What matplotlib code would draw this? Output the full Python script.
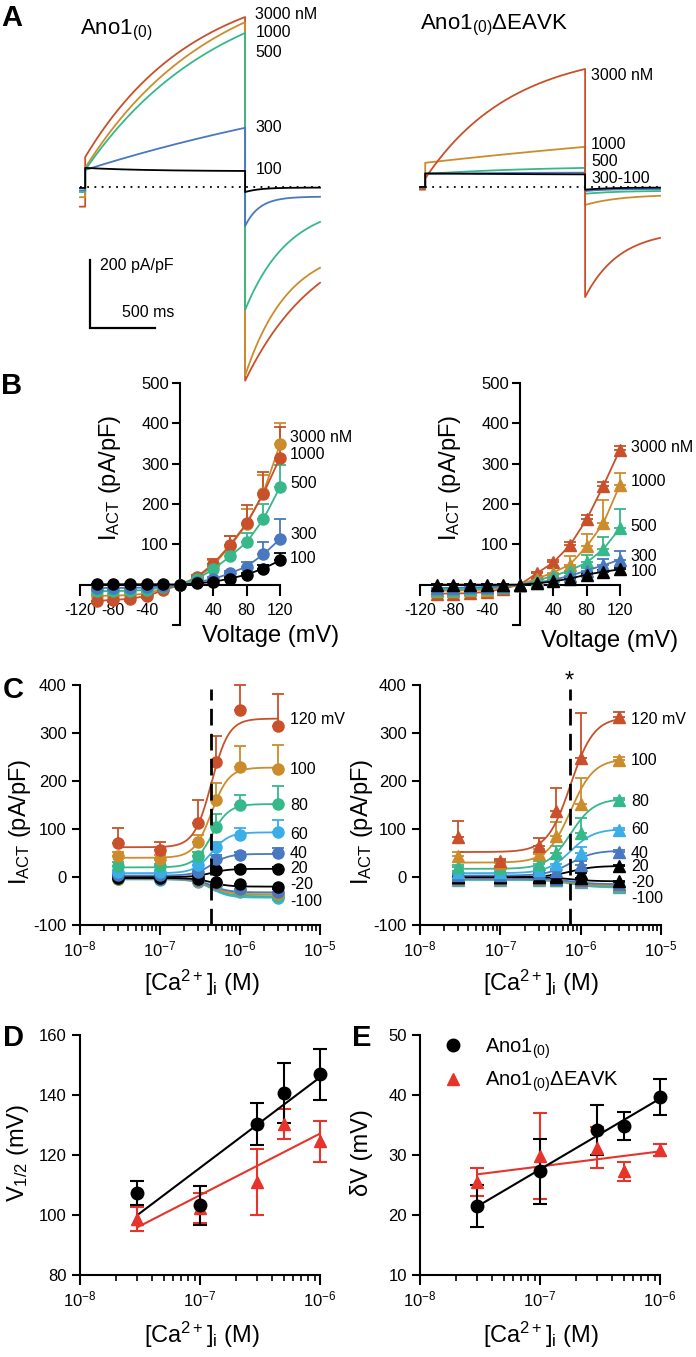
import numpy as np
import matplotlib.pyplot as plt
from matplotlib.ticker import LogLocator, NullFormatter
from matplotlib.lines import Line2D

# --------------------------------
# STYLE
# --------------------------------
plt.rcParams.update({
    "font.family": "Liberation Sans",
    "mathtext.fontset": "custom",
    "mathtext.rm": "Liberation Sans",
    "mathtext.it": "Liberation Sans:italic",
    "mathtext.bf": "Liberation Sans:bold",
    "mathtext.default": "regular",
    "axes.unicode_minus": False,
    "axes.linewidth": 1.5,
    "xtick.major.width": 1.5,
    "ytick.major.width": 1.5,
    "xtick.minor.width": 1.2,
    "xtick.major.size": 7,
    "ytick.major.size": 6,
    "xtick.minor.size": 4.5,
    "xtick.direction": "out",
    "ytick.direction": "out",
})

W, H = 696, 1357
RED = "#C8502A"
GOLD = "#CC8C2C"
GREEN = "#36B88A"
BLUE = "#4878C0"
LBLUE = "#3AAEE6"
BRIGHT_RED = "#E8332B"

LABEL_FS = 17
TICK_FS = 12
TICK_FS_B = 11.5
NOTE_FS = 11.5

# --------------------------------
# DATA - A (current traces, pA/pF)
# --------------------------------
T_PRE, T_STEP, T_END = -40, 1230, 1806

trace_colors = [RED, GOLD, GREEN, BLUE, "black"]
# Ano1(0): 3000, 1000, 500, 300, 100 nM
hold_wt = [-58, -30, -15, -10, -3]
on_wt = [88, 56, 50, 50, 56]
mid_wt = [366, 335, 309, 118, 49]
end_wt = [500, 485, 453, 174, 47]
tail_wt = [-570, -555, -362, -115, -15]
tail_mid_wt = [-391, -332, -180, -35, -3]
tail_end_wt = [-282, -238, -103, -29, -2]
labels_a_wt = ["3000 nM", "1000", "500", "300", "100"]
label_y_a_wt = [506, 453, 397, 174, 50]

# Ano1(0)dEAVK: 3000, 1000, 500, 300, 100 nM
hold_mut = [-8, -5, -3, -2, 0]
on_mut = [25, 71, 38, 38, 40]
mid_mut = [255, 96, 50, 41, 38]
end_mut = [347, 118, 56, 42, 37]
tail_mut = [-324, -53, -20, -12, -8]
tail_mid_mut = [-194, -33, -14, -7, -3]
tail_end_mut = [-150, -26, -12, -6, -2]
labels_a_mut = ["3000 nM", "1000", "500", "300-100"]
label_y_a_mut = [329, 126, 74, 26]

# --------------------------------
# DATA - B (I-V)
# --------------------------------
volt = [-100, -80, -60, -40, -20, 0, 20, 40, 60, 80, 100, 120]
iv_colors_wt = [GOLD, RED, GREEN, BLUE, "black"]
iv_wt = [
    [-28, -27, -26, -22, -10, 0, 15, 48, 95, 150, 228, 348],
    [-40, -38, -35, -28, -14, 0, 18, 52, 98, 152, 225, 315],
    [-16, -16, -15, -13, -7, 0, 14, 38, 70, 105, 162, 242],
    [-8, -8, -8, -7, -4, 0, 6, 14, 28, 45, 75, 113],
    [1, 1, 1, 1, 1, 0, 3, 7, 15, 25, 40, 60],
]
iv_err_wt = [
    [12, 12, 11, 10, 6, 0, 6, 12, 25, 38, 45, 52],
    [6, 6, 6, 5, 4, 0, 5, 12, 22, 45, 55, 75],
    [6, 6, 6, 5, 4, 0, 4, 8, 12, 22, 38, 55],
    [4, 4, 4, 3, 2, 0, 2, 4, 7, 12, 30, 50],
    [1, 1, 1, 1, 1, 0, 1, 2, 3, 5, 8, 18],
]
iv_labels_wt = ["3000 nM", "1000", "500", "300", "100"]
iv_label_y_wt = [365, 322, 250, 125, 65]

iv_colors_mut = [RED, GOLD, GREEN, BLUE, "black"]
iv_mut = [
    [-22, -22, -21, -18, -10, 0, 28, 55, 98, 162, 245, 335],
    [-15, -15, -14, -12, -6, 0, 15, 30, 50, 95, 152, 248],
    [-12, -12, -11, -9, -5, 0, 10, 22, 35, 55, 88, 140],
    [-8, -8, -7, -6, -3, 0, 5, 12, 22, 35, 48, 62],
    [0, 0, 0, 0, 0, 0, 3, 8, 15, 25, 32, 38],
]
iv_err_mut = [
    [5, 5, 5, 4, 3, 0, 4, 6, 8, 10, 10, 10],
    [4, 4, 4, 4, 3, 0, 5, 12, 20, 30, 58, 30],
    [3, 3, 3, 3, 2, 0, 3, 5, 10, 18, 30, 48],
    [2, 2, 2, 2, 2, 0, 2, 3, 6, 10, 15, 22],
    [1, 1, 1, 1, 1, 0, 2, 3, 3, 5, 5, 6],
]
iv_labels_mut = ["3000 nM", "1000", "500", "300", "100"]
iv_label_y_mut = [340, 255, 145, 70, 32]

# --------------------------------
# DATA - C (I vs [Ca2+])
# --------------------------------
ca_c = [3e-8, 1e-7, 3e-7, 5e-7, 1e-6, 3e-6]
c_volts = ["120 mV", "100", "80", "60", "40", "20", "-20", "-40", "-60", "-80", "-100"]
c_colors = [RED, GOLD, GREEN, LBLUE, BLUE, "black", "black", BLUE, GOLD, GREEN, LBLUE]
c_show_label = [True, True, True, True, True, True, True, False, False, False, True]

c_wt = [
    [70, 57, 112, 240, 348, 315],
    [43, 38, 73, 160, 229, 226],
    [23, 22, 43, 104, 150, 152],
    [10, 10, 25, 62, 88, 93],
    [5, 5, 10, 37, 45, 50],
    [0, 0, 3, 14, 17, 17],
    [-3, -3, -5, -10, -15, -20],
    [-3, -4, -6, -12, -25, -32],
    [-4, -5, -8, -14, -28, -36],
    [-4, -5, -9, -15, -30, -40],
    [-5, -6, -10, -16, -32, -43],
]
c_err_wt = [
    [32, 16, 48, 53, 52, 66],
    [10, 8, 15, 35, 44, 50],
    [8, 6, 10, 27, 21, 38],
    [5, 4, 6, 10, 14, 25],
    [3, 3, 4, 8, 8, 10],
    [2, 2, 2, 4, 3, 3],
    [2, 2, 2, 3, 3, 4],
    [2, 2, 2, 3, 4, 5],
    [2, 2, 2, 3, 4, 5],
    [2, 2, 2, 3, 4, 5],
    [2, 2, 2, 3, 4, 5],
]
hill_bottom_wt = [62, 40, 20, 8, 3, 0, -2, -3, -4, -4, -5]
hill_top_wt = [330, 228, 152, 93, 48, 17, -20, -32, -36, -40, -43]
hill_k_wt, hill_n_wt = 4.4e-7, 4.0
c_label_y_wt = [329, 225, 148, 88, 48, 17, -15, 0, 0, 0, -50]

c_mut = [
    [83, 33, 65, 138, 248, 333],
    [44, 30, 48, 85, 152, 243],
    [20, 18, 27, 50, 92, 160],
    [10, 10, 15, 28, 50, 97],
    [5, 5, 8, 12, 25, 53],
    [0, 0, 2, 3, 8, 22],
    [0, -1, -1, -1, -3, -8],
    [-3, -3, -3, -4, -6, -14],
    [-4, -4, -4, -5, -8, -17],
    [-5, -5, -5, -6, -9, -19],
    [-6, -6, -6, -7, -10, -21],
]
c_err_mut = [
    [34, 5, 16, 47, 94, 10],
    [8, 5, 10, 30, 55, 7],
    [5, 4, 6, 15, 31, 5],
    [3, 3, 4, 10, 13, 5],
    [2, 2, 3, 5, 8, 4],
    [2, 2, 2, 2, 3, 3],
    [2, 2, 2, 2, 2, 2],
    [2, 2, 2, 2, 2, 3],
    [2, 2, 2, 2, 2, 3],
    [2, 2, 2, 2, 2, 3],
    [2, 2, 2, 2, 2, 3],
]
hill_bottom_mut = [52, 30, 17, 8, 3, 0, 0, -3, -4, -5, -6]
hill_top_mut = [333, 246, 163, 100, 55, 23, -9, -15, -18, -20, -22]
hill_k_mut, hill_n_mut = 7.5e-7, 3.0
c_label_y_mut = [329, 242, 158, 98, 50, 21, -12, 0, 0, 0, -44]

ec50_wt, ec50_mut = 4.4e-7, 7.3e-7

# --------------------------------
# DATA - D / E
# --------------------------------
ca_de = [3e-8, 1e-7, 3e-7, 5e-7, 1e-6]
vhalf_wt = [107.3, 103.3, 130.3, 140.6, 147.0]
vhalf_wt_err = [4.0, 6.5, 7.0, 10.0, 8.5]
vhalf_mut = [98.6, 102.5, 111.0, 130.3, 124.6]
vhalf_mut_err = [4.0, 5.0, 11.0, 5.0, 6.8]
dv_wt = [21.5, 27.3, 34.2, 34.8, 39.7]
dv_wt_err = [3.5, 5.4, 4.2, 2.3, 3.0]
dv_mut = [25.5, 29.8, 31.2, 27.3, 30.8]
dv_mut_err = [2.3, 7.2, 3.4, 1.6, 1.0]


# --------------------------------
# HELPERS
# --------------------------------
def add_px_axes(x0, y0, x1, y1):
    return fig.add_axes([x0 / W, 1 - y1 / H, (x1 - x0) / W, (y1 - y0) / H])


def fig_text(x, y, s, **kw):
    fig.text(x / W, 1 - y / H, s, **kw)


def relax(t, a0, a1, a2, dur):
    # exponential relaxation through (0, a0), (dur/2, a1), (dur, a2)
    d1, d2 = a1 - a0, a2 - a1
    r = d2 / d1 if d1 != 0 else 0
    if r <= 0 or r >= 1:
        return np.interp(t, [0, dur / 2, dur], [a0, a1, a2])
    tau = -(dur / 2) / np.log(r)
    a_inf = a0 + d1 / (1 - r)
    return a_inf - (a_inf - a0) * np.exp(-t / tau)


def build_trace(hold, on, mid, end, tail, tail_mid, tail_end):
    t_on = np.linspace(0, T_STEP, 300)
    t_off = np.linspace(0, T_END - T_STEP, 200)
    x = np.concatenate([[T_PRE, 0], t_on, T_STEP + t_off])
    y = np.concatenate([[hold, hold],
                        relax(t_on, on, mid, end, T_STEP),
                        relax(t_off, tail, tail_mid, tail_end, T_END - T_STEP)])
    return x, y


def one_sided(vals, errs):
    vals = np.asarray(vals, float)
    errs = np.asarray(errs, float)
    return [np.where(vals < 0, errs, 0), np.where(vals >= 0, errs, 0)]


def hill(x, bottom, top, k, n):
    return bottom + (top - bottom) / (1 + (k / x) ** n)


def log_axis(ax):
    ax.set_xscale("log")
    ax.xaxis.set_major_locator(LogLocator(base=10, numticks=10))
    ax.xaxis.set_minor_locator(LogLocator(base=10, subs=np.arange(2, 10), numticks=20))
    ax.xaxis.set_minor_formatter(NullFormatter())
    ax.spines["top"].set_visible(False)
    ax.spines["right"].set_visible(False)
    ax.tick_params(labelsize=TICK_FS)


fig = plt.figure(figsize=(W / 100, H / 100), dpi=100)

# --------------------------------
# A - TRACES
# --------------------------------
axA1 = add_px_axes(80, 0, 320, 380)
axA2 = add_px_axes(420, 0, 660, 380)
for ax in (axA1, axA2):
    ax.set_xlim(T_PRE, T_END)
    ax.set_ylim(-568, 550)
    ax.axis("off")

for i in range(5):
    x, y = build_trace(hold_wt[i], on_wt[i], mid_wt[i], end_wt[i],
                       tail_wt[i], tail_mid_wt[i], tail_end_wt[i])
    axA1.plot(x, y, color=trace_colors[i], lw=1.3, clip_on=False)
axA1.plot([T_PRE, T_END], [0, 0], color="black", ls=(0, (1, 3)), lw=1.3)

for i in [1, 2, 3, 0, 4]:
    x, y = build_trace(hold_mut[i], on_mut[i], mid_mut[i], end_mut[i],
                       tail_mut[i], tail_mid_mut[i], tail_end_mut[i])
    axA2.plot(x, y, color=trace_colors[i], lw=1.3, clip_on=False)
axA2.plot([0, T_END], [0, 0], color="black", ls=(0, (1, 3)), lw=1.3)

for s, yv in zip(labels_a_wt, label_y_a_wt):
    axA1.text(1308, yv, s, fontsize=NOTE_FS, va="center", ha="left")
for s, yv in zip(labels_a_mut, label_y_a_mut):
    axA2.text(1277, yv, s, fontsize=NOTE_FS, va="center", ha="left")

# scale bar
axA1.plot([38, 38, 538], [-215, -415, -415], color="black", lw=1.6,
          solid_joinstyle="miter")
axA1.text(115, -230, "200 pA/pF", fontsize=NOTE_FS, va="center", ha="left")
axA1.text(285, -370, "500 ms", fontsize=NOTE_FS, va="center", ha="left")

fig_text(80, 30, "Ano1$_{(0)}$", fontsize=16, va="center", ha="left")
fig_text(420, 25, "Ano1$_{(0)}$ΔEAVK", fontsize=16, va="center", ha="left")

# --------------------------------
# B - I/V
# --------------------------------
axB1 = add_px_axes(80, 383, 280, 625)
axB2 = add_px_axes(420, 383, 620, 625)
for ax in (axB1, axB2):
    ax.set_xlim(-120, 120)
    ax.set_ylim(-100, 500)
    ax.spines["left"].set_position(("data", 0))
    ax.spines["bottom"].set_position(("data", 0))
    ax.spines["top"].set_visible(False)
    ax.spines["right"].set_visible(False)
    ax.set_xticks([-120, -80, -40, 40, 80, 120])
    ax.set_yticks([-100, 0, 100, 200, 300, 400, 500])
    ax.set_yticklabels(["", "", "100", "200", "300", "400", "500"])
    ax.tick_params(axis="x", length=8, pad=5, labelsize=TICK_FS_B)
    ax.tick_params(axis="y", length=6, pad=2, labelsize=TICK_FS)

for vals, errs, c in zip(iv_wt, iv_err_wt, iv_colors_wt):
    axB1.errorbar(volt, vals, yerr=one_sided(vals, errs), fmt="-o", color=c,
                  ms=8, lw=1.3, capsize=4, elinewidth=1.3, capthick=1.3,
                  zorder=3, clip_on=False)
for vals, errs, c in zip(iv_mut, iv_err_mut, iv_colors_mut):
    axB2.errorbar(volt, vals, yerr=one_sided(vals, errs), fmt="-^", color=c,
                  ms=8, lw=1.3, capsize=4, elinewidth=1.3, capthick=1.3,
                  zorder=3, clip_on=False)

for s, yv in zip(iv_labels_wt, iv_label_y_wt):
    axB1.text(132, yv, s, fontsize=NOTE_FS, va="center", ha="left")
for s, yv in zip(iv_labels_mut, iv_label_y_mut):
    axB2.text(133, yv, s, fontsize=NOTE_FS, va="center", ha="left")

fig_text(110, 478, "I$_{ACT}$ (pA/pF)", fontsize=LABEL_FS, rotation=90,
         va="center", ha="center")
fig_text(450, 478, "I$_{ACT}$ (pA/pF)", fontsize=LABEL_FS, rotation=90,
         va="center", ha="center")
fig_text(271, 636, "Voltage (mV)", fontsize=LABEL_FS, va="center", ha="center")
fig_text(610, 641, "Voltage (mV)", fontsize=LABEL_FS, va="center", ha="center")

# --------------------------------
# C - Ca dependence
# --------------------------------
axC1 = add_px_axes(80, 685, 320, 925)
axC2 = add_px_axes(420, 685, 661, 925)
xfit = np.logspace(np.log10(3e-8), np.log10(3e-6), 200)

panels_c = [
    (axC1, c_wt, c_err_wt, hill_bottom_wt, hill_top_wt, hill_k_wt, hill_n_wt,
     c_label_y_wt, "o", ec50_wt),
    (axC2, c_mut, c_err_mut, hill_bottom_mut, hill_top_mut, hill_k_mut, hill_n_mut,
     c_label_y_mut, "^", ec50_mut),
]
for ax, vals_all, errs_all, bots, tops, k, n, lab_y, mk, ec50 in panels_c:
    log_axis(ax)
    ax.set_xlim(1e-8, 1e-5)
    ax.set_ylim(-100, 400)
    ax.set_yticks([-100, 0, 100, 200, 300, 400])
    for i in reversed(range(len(vals_all))):
        c = c_colors[i]
        ax.plot(xfit, hill(xfit, bots[i], tops[i], k, n), color=c, lw=1.3, zorder=3)
        ax.errorbar(ca_c, vals_all[i], yerr=one_sided(vals_all[i], errs_all[i]),
                    fmt=mk, color=c, ms=8, capsize=4, elinewidth=1.3,
                    capthick=1.3, zorder=3, clip_on=False)
    ax.plot([ec50, ec50], [-100, 392], color="black", lw=2, dashes=(6, 3), zorder=4)
    xl = 10 ** (-8 + 210 / 80)
    for s, yv, show in zip(c_volts, lab_y, c_show_label):
        if show:
            ax.text(xl, yv, s, fontsize=NOTE_FS, va="center", ha="left")

axC2.text(ec50_mut, 408, "*", fontsize=17, ha="center", va="center")

for xc in (20, 362):
    fig_text(xc, 822, "I$_{ACT}$ (pA/pF)", fontsize=LABEL_FS, rotation=90,
             va="center", ha="center")
fig_text(202, 983, "[Ca$^{2+}$]$_i$ (M)", fontsize=LABEL_FS, va="center", ha="center")
fig_text(541, 983, "[Ca$^{2+}$]$_i$ (M)", fontsize=LABEL_FS, va="center", ha="center")

# --------------------------------
# D / E
# --------------------------------
axD = add_px_axes(80, 1035, 320, 1275)
axE = add_px_axes(420, 1035, 660, 1275)
lx = np.log10(ca_de)
xline = np.array([ca_de[0], ca_de[-1]])

for ax, wt, wte, mut, mute, ylim, yt in [
    (axD, vhalf_wt, vhalf_wt_err, vhalf_mut, vhalf_mut_err, (80, 160), np.arange(80, 161, 20)),
    (axE, dv_wt, dv_wt_err, dv_mut, dv_mut_err, (10, 50), np.arange(10, 51, 10)),
]:
    log_axis(ax)
    ax.set_xlim(1e-8, 1e-6)
    ax.set_ylim(*ylim)
    ax.set_yticks(yt)
    for vals, errs, c, mk in [(mut, mute, BRIGHT_RED, "^"), (wt, wte, "black", "o")]:
        slope, icpt = np.polyfit(lx, vals, 1)
        ax.plot(xline, icpt + slope * np.log10(xline), color=c, lw=1.5, zorder=3)
        ax.errorbar(ca_de, vals, yerr=errs, fmt=mk, color=c, ms=9, capsize=5,
                    elinewidth=1.5, capthick=1.5, zorder=3, clip_on=False)

handles = [
    Line2D([], [], ls="none", marker="o", color="black", ms=9),
    Line2D([], [], ls="none", marker="^", color=BRIGHT_RED, ms=9),
]
axE.legend(handles, ["Ano1$_{(0)}$", "Ano1$_{(0)}$ΔEAVK"], loc="upper left",
           bbox_to_anchor=(0.02, 1.07), frameon=False, fontsize=14.5,
           handlelength=1.0, handletextpad=1.1, labelspacing=0.45)

fig_text(18, 1153, "V$_{1/2}$ (mV)", fontsize=LABEL_FS, rotation=90,
         va="center", ha="center")
fig_text(362, 1153, "δV (mV)", fontsize=LABEL_FS, rotation=90,
         va="center", ha="center")
fig_text(202, 1335, "[Ca$^{2+}$]$_i$ (M)", fontsize=LABEL_FS, va="center", ha="center")
fig_text(541, 1335, "[Ca$^{2+}$]$_i$ (M)", fontsize=LABEL_FS, va="center", ha="center")

# --------------------------------
# PANEL LETTERS
# --------------------------------
for s, x, y in [("A", 12, 18), ("B", 12, 386), ("C", 13, 690),
                ("D", 13, 1038), ("E", 362, 1038)]:
    fig_text(x, y, s, fontsize=21, fontweight="bold", va="center", ha="center")

fig.savefig("out.png", dpi=100)
